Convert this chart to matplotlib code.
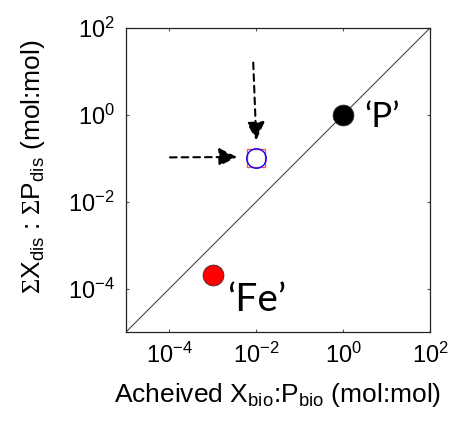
import matplotlib
matplotlib.use("Agg")
import matplotlib.pyplot as plt

plt.rcParams['font.family'] = ['Liberation Sans', 'DejaVu Sans']
plt.rcParams['mathtext.fontset'] = 'custom'
plt.rcParams['mathtext.rm'] = 'Liberation Sans'
plt.rcParams['mathtext.sf'] = 'Liberation Serif'
plt.rcParams['mathtext.it'] = 'Liberation Sans:italic'

# Data
element_names = ["\u2018P\u2019", "\u2018Fe\u2019"]
achieved_ratio = [1.0, 1e-3]      # X_bio:P_bio
dissolved_ratio = [1.0, 2e-4]     # sum X_dis : sum P_dis
point_colors = ['black', 'red']

highlight_x = [1e-2]
highlight_y = [1e-1]

axis_limits = [1e-5, 1e2]
tick_values = [1e-4, 1e-2, 1e0, 1e2]

fig = plt.figure(figsize=(4.66, 4.22), dpi=100)
ax = fig.add_axes([126/466, 90/422, 304/466, 304/422])

# 1:1 line
ax.plot(axis_limits, axis_limits, color='#444444', lw=0.8, zorder=1)

# element points
for x, y, c in zip(achieved_ratio, dissolved_ratio, point_colors):
    ax.plot(x, y, 'o', color=c, mec='#333333', mew=0.6, ms=15, zorder=3)

ax.text(3.0, 0.9, element_names[0], fontsize=25, family=['Lato', 'DejaVu Sans'], va='center', ha='left')
ax.text(2.1e-3, 5.5e-5, element_names[1], fontsize=28, family=['Lato', 'DejaVu Sans'], va='center', ha='left')

# highlighted point
ax.plot(highlight_x, highlight_y, 's', mfc='white', mec='#ff5555', mew=1.0, ms=12.5, zorder=3)
ax.plot(highlight_x, highlight_y, 'o', mfc='none', mec='blue', mew=1.0, ms=14, zorder=4)

arrow_kw = dict(arrowstyle='-|>,head_length=1.1,head_width=0.55', color='black', lw=1.5,
                linestyle=(0, (3.2, 2.4)), shrinkA=0, shrinkB=0, mutation_scale=10)
ax.annotate('', xy=(1e-2, 0.26), xytext=(0.0085, 16), arrowprops=arrow_kw)
ax.annotate('', xy=(3.6e-3, 0.107), xytext=(1.03e-4, 0.105), arrowprops=arrow_kw)

ax.set_xscale('log')
ax.set_yscale('log')
ax.set_xlim(axis_limits)
ax.set_ylim(axis_limits)
ax.set_xticks(tick_values)
ax.set_yticks(tick_values)
ax.minorticks_off()
ax.tick_params(direction='in', length=2.5, width=0.8, color='#555555', labelsize=17,
               top=True, right=True, pad=8)
for s in ax.spines.values():
    s.set_linewidth(0.9)
    s.set_color('#222222')

ax.set_xlabel(r'Acheived X$_{\mathrm{bio}}$:P$_{\mathrm{bio}}$ (mol:mol)', fontsize=19)
ax.xaxis.set_label_coords(0.5, -0.16)
ax.set_ylabel(r'$\mathsf{\Sigma}$X$_{\mathrm{dis}}$ : $\mathsf{\Sigma}$P$_{\mathrm{dis}}$ (mol:mol)', fontsize=19)
ax.yaxis.set_label_coords(-0.26, 0.545)

fig.savefig('out.png', dpi=100)
